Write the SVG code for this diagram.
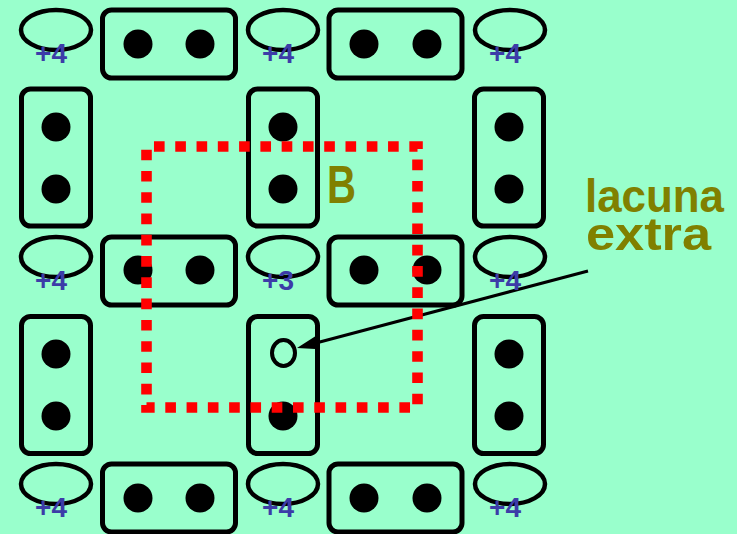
<svg xmlns="http://www.w3.org/2000/svg" width="737" height="534" viewBox="0 0 737 534">
<style>
.bg{fill:#99ffcc}
.el{fill:none;stroke:#000;stroke-width:4.5}
.bx{fill:none;stroke:#000;stroke-width:5}
.dot{fill:#000}
.num{font-family:"Liberation Sans",Arial,sans-serif;font-weight:bold;font-size:28px;fill:#3c3ca8;text-anchor:middle}
.lbl{font-family:"Liberation Sans",Arial,sans-serif;font-weight:bold;fill:#808000}
.red{fill:none;stroke:#ff0000;stroke-width:10.6;stroke-dasharray:10.64 10.64;stroke-dashoffset:13.8}
</style>
<defs>
<ellipse id="ov" rx="35" ry="20" class="el"/>
<rect id="hb" x="-66.5" y="-34" width="133" height="68" rx="9" class="bx"/>
<rect id="vb" x="-34.5" y="-68.5" width="69" height="137" rx="9" class="bx"/>
</defs>
<rect class="bg" x="0" y="0" width="737" height="534"/>

<g id="ovals">
<use href="#ov" x="56" y="30"/><use href="#ov" x="283" y="30"/><use href="#ov" x="510" y="30"/>
<use href="#ov" x="56" y="257"/><use href="#ov" x="283" y="257"/><use href="#ov" x="510" y="257"/>
<use href="#ov" x="56" y="484"/><use href="#ov" x="283" y="484"/><use href="#ov" x="510" y="484"/>
</g>

<g id="hbonds">
<g id="h11"><use href="#hb" x="169" y="44"/><circle class="dot" cx="138" cy="44" r="14.5"/><circle class="dot" cx="200" cy="44" r="14.5"/></g>
<g id="h12"><use href="#hb" x="395.5" y="44"/><circle class="dot" cx="364" cy="44" r="14.5"/><circle class="dot" cx="427" cy="44" r="14.5"/></g>
<g id="h21"><use href="#hb" x="169" y="271"/><circle class="dot" cx="138" cy="270" r="14.5"/><circle class="dot" cx="200" cy="270" r="14.5"/></g>
<g id="h22"><use href="#hb" x="395.5" y="271"/><circle class="dot" cx="364" cy="270" r="14.5"/><circle class="dot" cx="427" cy="270" r="14.5"/></g>
<g id="h31"><use href="#hb" x="169" y="498"/><circle class="dot" cx="138" cy="498" r="14.5"/><circle class="dot" cx="200" cy="498" r="14.5"/></g>
<g id="h32"><use href="#hb" x="395.5" y="498"/><circle class="dot" cx="364" cy="498" r="14.5"/><circle class="dot" cx="427" cy="498" r="14.5"/></g>
</g>

<g id="vbonds">
<g id="v11"><use href="#vb" x="56" y="157.5"/><circle class="dot" cx="56" cy="127" r="14.5"/><circle class="dot" cx="56" cy="189" r="14.5"/></g>
<g id="v12"><use href="#vb" x="283" y="157.5"/><circle class="dot" cx="283" cy="127" r="14.5"/><circle class="dot" cx="283" cy="189" r="14.5"/></g>
<g id="v13"><use href="#vb" x="509" y="157.5"/><circle class="dot" cx="509" cy="127" r="14.5"/><circle class="dot" cx="509" cy="189" r="14.5"/></g>
<g id="v21"><use href="#vb" x="56" y="385"/><circle class="dot" cx="56" cy="354" r="14.5"/><circle class="dot" cx="56" cy="416" r="14.5"/></g>
<g id="v22"><use href="#vb" x="283" y="385"/><ellipse cx="283.5" cy="353" rx="11.5" ry="13" fill="none" stroke="#000" stroke-width="4"/><circle class="dot" cx="283" cy="416" r="14.5"/></g>
<g id="v23"><use href="#vb" x="509" y="385"/><circle class="dot" cx="509" cy="354" r="14.5"/><circle class="dot" cx="509" cy="416" r="14.5"/></g>
</g>

<g id="connectors">
<line x1="588" y1="271" x2="316" y2="343" stroke="#000" stroke-width="3"/>
<polygon points="297,348 320.1,349.2 316.5,335.6" fill="#000"/>
</g>

<g id="regionB">
<path class="red" d="M146.5,146.5 H417.5 V407.5 H146.5 Z"/>
</g>

<g id="counts">
<text class="num" x="51" y="63">+4</text>
<text class="num" x="278" y="63">+4</text>
<text class="num" x="505" y="63">+4</text>
<text class="num" x="51" y="290">+4</text>
<text class="num" x="278" y="290">+3</text>
<text class="num" x="505" y="290">+4</text>
<text class="num" x="51" y="517">+4</text>
<text class="num" x="278" y="517">+4</text>
<text class="num" x="505" y="517">+4</text>
</g>

<g id="labels">
<text class="lbl" x="327" y="203" font-size="54" textLength="29" lengthAdjust="spacingAndGlyphs">B</text>
<text class="lbl" font-size="46"><tspan x="585" y="212" textLength="139" lengthAdjust="spacingAndGlyphs">lacuna</tspan><tspan x="586" y="250" textLength="125" lengthAdjust="spacingAndGlyphs">extra</tspan></text>
</g>
</svg>
